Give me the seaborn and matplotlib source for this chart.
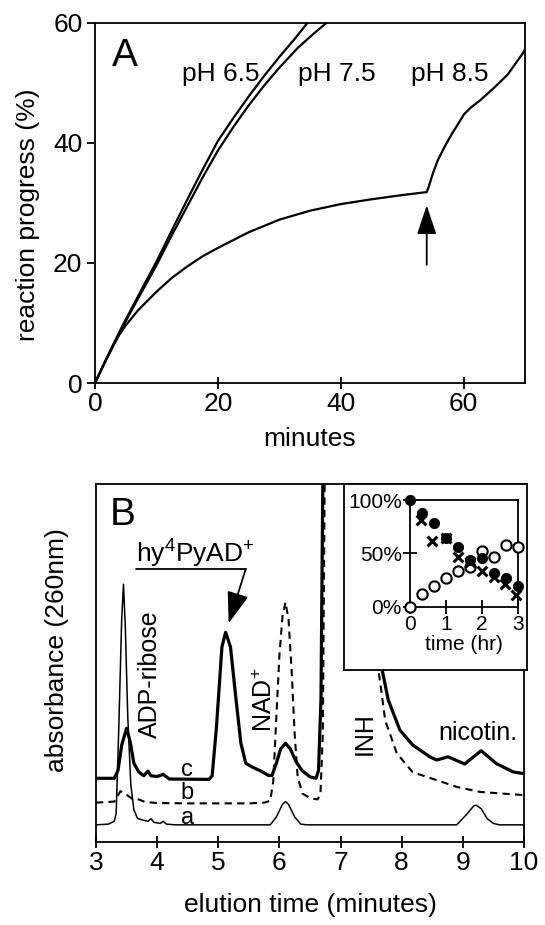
import matplotlib
matplotlib.use("Agg")
import matplotlib.pyplot as plt
import seaborn as sns

# ---- Panel A: reaction progress (%) vs minutes
t_ph65 = [0, 1.5, 3, 4.5, 6, 8, 10, 12.5, 15, 17.5, 20, 22.5, 25, 27.5, 30, 32.5, 34.6]
p_ph65 = [0, 3.3, 6.5, 9.6, 12.5, 16.4, 20.2, 25.4, 30.5, 35.5, 40.3, 44.1, 47.7, 51.1, 54.3, 57.3, 60]
t_ph75 = [0, 1.5, 3, 4.5, 6, 8, 10, 12.5, 15, 17.5, 20, 22.5, 25, 27.5, 30, 33, 35.5, 37.7]
p_ph75 = [0, 3.2, 6.3, 9.3, 12.2, 15.9, 19.6, 24.6, 29.4, 34.2, 38.7, 42.6, 46.2, 49.5, 52.5, 55.8, 58.1, 60]
t_ph85 = [0, 1, 2, 3, 4, 5, 7, 10, 12.5, 15, 17.5, 20, 25, 30, 35, 40, 45, 50, 54,
          54.3, 55, 55.8, 57, 58.1, 59.2, 60.1, 61.2, 62.6, 65, 67.2, 69.7, 70]
p_ph85 = [0, 2.2, 4.3, 6.3, 8.1, 9.6, 12.1, 15.2, 17.5, 19.4, 21.1, 22.5, 25.1, 27.2, 28.7, 29.8, 30.6, 31.3, 31.8,
          32.6, 34.9, 37.1, 39.5, 41.5, 43.3, 44.8, 45.9, 47, 49.2, 51.4, 55, 55.6]
ph_labels = ["pH 6.5", "pH 7.5", "pH 8.5"]
ph_label_x = [20.4, 39.4, 57.8]

# ---- Panel B: chromatograms (absorbance, arbitrary 0-100 scale)
t_a = [3.0, 3.2, 3.3, 3.33, 3.37, 3.42, 3.45, 3.48, 3.52, 3.57, 3.62, 3.68, 3.75, 3.85, 3.9,
       3.95, 4.05, 4.1, 4.15, 4.3, 5.85, 5.95, 6.05, 6.1, 6.15, 6.25, 6.35, 6.45, 8.9, 9.05,
       9.18, 9.22, 9.3, 9.4, 9.5, 9.6, 10.0]
abs_a = [4.8, 5.0, 5.8, 8, 30, 62, 72, 60, 35, 16, 9, 6.6, 6.2, 5.8, 6.5,
         5.5, 5.2, 5.8, 5.0, 4.8, 4.8, 7, 10.5, 11.3, 10.5, 7, 5, 4.8, 4.8, 7.5,
         10.1, 10.3, 9.3, 6.5, 5.2, 4.8, 4.8]
t_b = [3.0, 3.3, 3.4, 3.5, 3.6, 3.7, 3.8, 4.0, 4.5, 5.0, 5.5, 5.75, 5.85, 5.9, 5.95, 6.0,
       6.05, 6.1, 6.15, 6.2, 6.25, 6.3, 6.38, 6.5, 6.62, 6.67, 6.71, 6.74, 6.76, 6.85, 7.1,
       7.4, 7.6, 7.65, 7.73, 7.92, 8.18, 8.57, 8.9, 9.28, 10.0]
abs_b = [11, 11.3, 14.2, 13.2, 12, 11.9, 11.2, 10.9, 10.8, 10.8, 10.8, 11, 11.5, 17, 35, 52,
         63, 67, 62, 48, 30, 18, 13.5, 12.3, 11.9, 13, 30, 100, 150, 300, 300,
         90, 50, 44.4, 34, 24.8, 19.5, 17.3, 15.4, 14, 13.1]
t_c = [3.0, 3.3, 3.36, 3.42, 3.5, 3.56, 3.62, 3.7, 3.78, 3.85, 3.9, 4.0, 4.1, 4.2, 4.85,
       4.9, 4.97, 5.06, 5.12, 5.2, 5.28, 5.37, 5.45, 5.55, 5.7, 5.82, 5.88, 5.95, 6.02, 6.1,
       6.18, 6.27, 6.37, 6.5, 6.6, 6.64, 6.68, 6.71, 6.73, 6.8, 7.1, 7.4, 7.55, 7.67, 7.78,
       7.97, 8.18, 8.46, 8.57, 8.76, 9.03, 9.3, 9.55, 9.82, 10.0]
abs_c = [17.8, 17.8, 20, 27, 31.8, 28, 22, 19.6, 18.5, 19.8, 18.5, 18.3, 18.9, 17.6, 17.5,
         18.5, 32, 54.5, 58.6, 54.5, 41.5, 27.6, 22, 21, 19.8, 18.6, 18.6, 22, 26, 27.6,
         26, 22.5, 20, 18.2, 17.8, 20, 40, 100, 150, 300, 300, 90, 60, 49, 39.7,
         31.3, 27.1, 23.8, 22.9, 23.8, 21.8, 25.5, 21.9, 19.6, 19.1]

# ---- Inset: fraction vs time (hr)
inset_t = [0, 0.33, 0.67, 1.0, 1.33, 1.67, 2.0, 2.33, 2.67, 3.0]
filled_pct = [100, 88, 78, 64.7, 55.6, 43.8, 45.3, 31.9, 26.6, 19.4]
open_pct = [0, 11.6, 19.7, 26.6, 33.4, 37.5, 52.2, 46.2, 57.8, 56.2]
cross_t = [0.3, 0.62, 1.0, 1.32, 1.66, 2.0, 2.32, 2.63, 2.95]
cross_pct = [81, 62, 64, 47, 42, 33, 28, 21, 11]

sns.set_theme(style="ticks")
plt.rcParams["font.family"] = ["Liberation Sans", "DejaVu Sans"]
plt.rcParams["mathtext.fontset"] = "custom"
plt.rcParams["mathtext.rm"] = "Liberation Sans"
plt.rcParams["mathtext.it"] = "Liberation Sans"
plt.rcParams["axes.linewidth"] = 1.3
plt.rcParams["axes.edgecolor"] = "black"
plt.rcParams["text.color"] = "black"
plt.rcParams["axes.labelcolor"] = "black"
plt.rcParams["xtick.color"] = "black"
plt.rcParams["ytick.color"] = "black"

fs = 19
fig = plt.figure(figsize=(5.45, 9.25), dpi=100)

# ================= Panel A
axA = fig.add_axes([0.1743, 0.5859, 0.789, 0.3895])
for t, p in [(t_ph65, p_ph65), (t_ph75, p_ph75), (t_ph85, p_ph85)]:
    sns.lineplot(x=t, y=p, ax=axA, color="black", lw=1.6, sort=False)
axA.set_xlim(0, 70)
axA.set_ylim(0, 60)
axA.set_xticks([0, 20, 40, 60])
axA.set_yticks([0, 20, 40, 60])
axA.tick_params(axis="x", direction="inout", length=9, width=1.3, labelsize=fs, pad=2)
axA.tick_params(axis="y", direction="out", length=6, width=1.3, labelsize=fs, pad=3)
axA.set_xlabel("minutes", fontsize=fs)
axA.set_ylabel("reaction progress (%)", fontsize=fs)
axA.xaxis.set_label_coords(0.5, -0.122)
axA.yaxis.set_label_coords(-0.128, 0.467)
axA.text(4.8, 54.5, "A", fontsize=28, ha="center", va="center")
for lab, x in zip(ph_labels, ph_label_x):
    axA.text(x, 51.5, lab, fontsize=fs, ha="center", va="center")
axA.annotate("", xy=(54.0, 29.6), xytext=(54.0, 19.7),
             arrowprops=dict(arrowstyle="-|>,head_length=1.2,head_width=0.4",
                             mutation_scale=15, lw=1.3, color="black", shrinkA=0, shrinkB=0))

# ================= Panel B
axB = fig.add_axes([0.1761, 0.0897, 0.7853, 0.387])
sns.lineplot(x=t_a, y=abs_a, ax=axB, color="black", lw=1.1, sort=False)
sns.lineplot(x=t_b, y=abs_b, ax=axB, color="black", lw=1.5, sort=False, linestyle=(0, (3.5, 2.5)))
sns.lineplot(x=t_c, y=abs_c, ax=axB, color="black", lw=2.3, sort=False)
axB.set_xlim(3, 10)
axB.set_ylim(0, 100)
axB.set_xticks(range(3, 11))
axB.set_yticks([])
axB.tick_params(axis="x", direction="inout", length=9, width=1.3, labelsize=fs, pad=2)
axB.set_xlabel("elution time (minutes)", fontsize=fs, labelpad=13)
axB.set_ylabel("absorbance (260nm)", fontsize=fs)
axB.yaxis.set_label_coords(-0.063, 0.536)
axB.text(3.44, 91.3, "B", fontsize=28, ha="center", va="center")
axB.text(4.63, 78, r"hy$^{4}$PyAD$^{+}$", fontsize=fs, ha="center", va="baseline")
axB.plot([3.66, 5.45], [76.3, 76.3], color="black", lw=1.3)
axB.annotate("", xy=(5.17, 61.1), xytext=(5.45, 76.3),
             arrowprops=dict(arrowstyle="-|>,head_length=1.3,head_width=0.45",
                             mutation_scale=15, lw=1.3, color="black", shrinkA=0, shrinkB=0))
axB.text(3.89, 46.9, "ADP-ribose", fontsize=fs - 1, rotation=90, ha="center", va="center")
axB.text(5.77, 39.7, r"NAD$^{+}$", fontsize=fs - 1, rotation=90, ha="center", va="center")
axB.text(7.39, 30.4, "INH", fontsize=fs - 1, rotation=90, ha="center", va="center")
axB.text(9.25, 30.4, "nicotin.", fontsize=fs - 1, ha="center", va="center")
for lab, y in zip(["c", "b", "a"], [20.1, 13.6, 6.6]):
    axB.text(4.49, y, lab, fontsize=fs - 2, ha="center", va="center")

# ================= Inset
box = fig.add_axes([344 / 545, 1 - 670 / 925, 183 / 545, 186 / 925])
box.set_xticks([])
box.set_yticks([])
box.set_facecolor("white")

axI = fig.add_axes([410 / 545, 1 - 606.7 / 925, 108.3 / 545, 106.7 / 925])
axI.set_facecolor("none")
sns.scatterplot(x=inset_t, y=open_pct, ax=axI, marker="o", s=55, facecolor="white",
                edgecolor="black", linewidth=1.5, clip_on=False, zorder=3)
sns.scatterplot(x=cross_t, y=cross_pct, ax=axI, marker="x", s=50, color="black",
                linewidth=2.2, clip_on=False, zorder=4)
sns.scatterplot(x=inset_t, y=filled_pct, ax=axI, marker="o", s=55, color="black",
                edgecolor="black", clip_on=False, zorder=5)
axI.set_xlim(0, 3)
axI.set_ylim(0, 100)
axI.set_xticks([0, 1, 2, 3])
axI.set_yticks([0, 50, 100])
axI.set_yticklabels(["0%", "50%", "100%"])
axI.tick_params(direction="inout", length=10, width=1.3, labelsize=15, pad=1)
axI.set_xlabel("time (hr)", fontsize=15, labelpad=1)

fig.savefig("out.png", dpi=100)
